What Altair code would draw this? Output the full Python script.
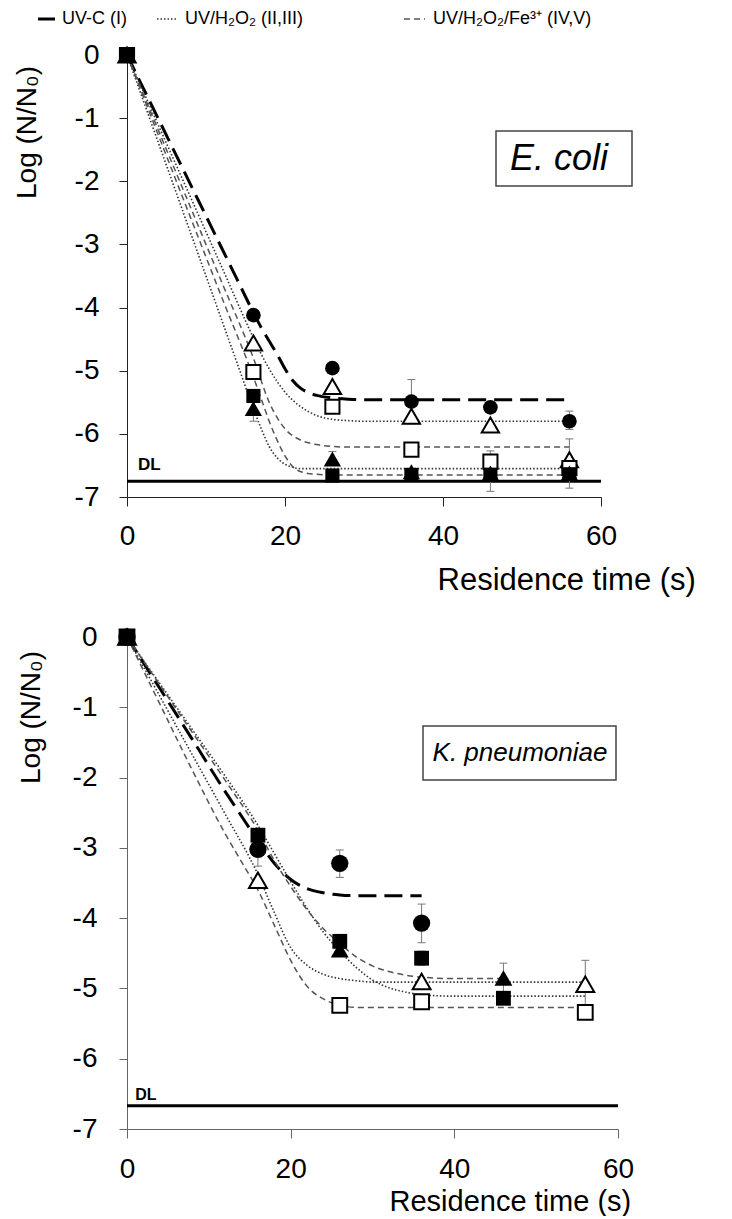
import altair as alt
import pandas as pd

FONT = "Liberation Sans, Arial, sans-serif"

# ---------------- E. coli (top panel) ----------------
EC_TIMES = [0, 16, 26, 36, 46, 56]
EC_CIRCLE_FILLED = [0, -4.12, -4.96, -5.49, -5.58, -5.80]      # UV-C (I)
EC_TRIANGLE_OPEN = [0, -4.56, -5.25, -5.72, -5.86, -6.41]      # UV/H2O2 (II)
EC_TRIANGLE_FILLED = [0, -5.60, -6.40, -6.60, -6.62, -6.62]    # UV/H2O2 (III)
EC_SQUARE_OPEN = [0, -5.02, -5.57, -6.25, -6.44, -6.54]        # UV/H2O2/Fe (IV)
EC_SQUARE_FILLED = [0, -5.40, -6.66, -6.65, -6.65, -6.64]      # UV/H2O2/Fe (V)

EC_I_T = [0, 4, 8, 12, 14, 16, 17, 18, 19, 20, 21, 22, 23, 24, 26, 28, 30, 56]
EC_I_Y = [0, -1.02, -2.04, -3.06, -3.57, -4.08, -4.32, -4.53, -4.74, -4.97, -5.16, -5.28, -5.35, -5.39, -5.43, -5.45, -5.46, -5.46]
EC_II_T = [0, 4, 8, 12, 16, 17, 18, 19, 20, 21, 22, 23, 24, 26, 28, 30, 56]
EC_II_Y = [0, -1.12, -2.24, -3.36, -4.48, -4.74, -4.97, -5.17, -5.34, -5.47, -5.57, -5.65, -5.71, -5.77, -5.79, -5.80, -5.80]
EC_III_T = [0, 4, 8, 12, 14, 16, 17, 18, 19, 20, 21, 22, 24, 56]
EC_III_Y = [0, -1.40, -2.80, -4.20, -4.90, -5.60, -5.92, -6.20, -6.38, -6.48, -6.53, -6.55, -6.55, -6.55]
EC_IV_T = [0, 4, 8, 12, 16, 18, 20, 22, 24, 26, 28, 56]
EC_IV_Y = [0, -1.20, -2.40, -3.60, -4.80, -5.50, -5.92, -6.10, -6.17, -6.20, -6.21, -6.21]
EC_V_T = [0, 4, 8, 12, 16, 17, 18, 19, 20, 21, 22, 24, 26, 56]
EC_V_Y = [0, -1.28, -2.56, -3.84, -5.10, -5.45, -5.80, -6.10, -6.35, -6.52, -6.60, -6.64, -6.65, -6.65]

EC_ERR_T = [16, 26, 36, 46, 46, 56, 56, 56]
EC_ERR_LO = [-5.80, -6.45, -5.84, -6.61, -6.91, -5.93, -6.74, -6.86]
EC_ERR_HI = [-5.38, -6.28, -5.14, -6.27, -6.39, -5.64, -6.08, -6.42]
EC_DL = -6.75

# ---------------- K. pneumoniae (bottom panel) ----------------
KP_CIRCLE_T = [0, 16, 26, 36]
KP_CIRCLE_Y = [0, -3.02, -3.22, -4.07]
KP_TRI_OPEN_T = [0, 16, 36, 56]
KP_TRI_OPEN_Y = [0, -3.46, -4.90, -4.94]
KP_TRI_FILLED_T = [0, 26, 46]
KP_TRI_FILLED_Y = [0, -4.45, -4.85]
KP_SQ_FILLED_T = [0, 16, 26, 36, 46]
KP_SQ_FILLED_Y = [0, -2.82, -4.33, -4.57, -5.14]
KP_SQ_OPEN_T = [0, 26, 36, 56]
KP_SQ_OPEN_Y = [0, -5.24, -5.19, -5.34]

KP_I_T = [0, 4, 8, 12, 14, 16, 18, 20, 22, 24, 26, 28, 36]
KP_I_Y = [0, -0.73, -1.46, -2.20, -2.55, -2.90, -3.22, -3.45, -3.58, -3.64, -3.67, -3.68, -3.68]
KP_II_T = [0, 4, 8, 12, 16, 18, 20, 22, 24, 26, 28, 30, 56]
KP_II_Y = [0, -0.84, -1.68, -2.52, -3.38, -3.92, -4.42, -4.67, -4.80, -4.86, -4.89, -4.91, -4.91]
KP_III_T = [0, 4, 8, 12, 16, 18, 20, 22, 24, 26, 28, 30, 32, 34, 36, 40, 56]
KP_III_Y = [0, -0.66, -1.32, -1.98, -2.68, -3.08, -3.48, -3.86, -4.20, -4.47, -4.70, -4.88, -4.99, -5.05, -5.09, -5.11, -5.11]
KP_IV_T = [0, 4, 8, 12, 16, 18, 20, 22, 24, 26, 28, 30, 32, 34, 36, 40, 46]
KP_IV_Y = [0, -0.68, -1.36, -2.04, -2.75, -3.18, -3.55, -3.88, -4.15, -4.36, -4.55, -4.68, -4.76, -4.81, -4.84, -4.86, -4.86]
KP_V_T = [0, 4, 8, 12, 14, 16, 18, 20, 22, 24, 26, 28, 56]
KP_V_Y = [0, -0.95, -1.90, -2.80, -3.20, -3.60, -4.10, -4.60, -4.97, -5.15, -5.24, -5.27, -5.27]

KP_ERR_T = [16, 26, 36, 36, 46, 46, 56]
KP_ERR_LO = [-3.26, -3.42, -4.35, -4.67, -5.06, -5.22, -5.25]
KP_ERR_HI = [-2.83, -3.03, -3.80, -4.47, -4.64, -5.06, -4.60]
KP_DL = -6.67

LEGEND_LABELS = ["UV-C (I)", "UV/H\u2082O\u2082 (II,III)", "UV/H\u2082O\u2082/Fe\u00b3\u207a (IV,V)"]
X_TITLE = "Residence time (s)"
Y_TITLE = "Log (N/N\u2080)"


def markers_frame(series):
    rows = []
    for shape, filled, ts, ys in series:
        for t, y in zip(ts, ys):
            rows.append({"t": t, "y": y, "shape": shape, "filled": filled})
    return pd.DataFrame(rows)


def curves_frame(curves):
    rows = []
    for name, style, ts, ys in curves:
        for t, y in zip(ts, ys):
            rows.append({"curve": name, "style": style, "t": t, "y": y})
    return pd.DataFrame(rows)


def err_frame(ts, lo, hi):
    return pd.DataFrame({"t": ts, "lo": lo, "hi": hi})


def panel(curves, markers, errs, dl, width, height, axis_color, y_title_x, y_title_y,
          x_title_x, x_title_y, x_title_size, y_label_pad, x_label_pad, sizes, box, box_text,
          box_font, dl_font, dl_dy, dl_x, extra=None):
    xs = alt.Scale(domain=[0, 60], nice=False, zero=False)
    ys = alt.Scale(domain=[-7, 0], nice=False, zero=False)
    xax = alt.Axis(values=[0, 20, 40, 60], title=X_TITLE, grid=False, domainColor=axis_color,
                   tickColor=axis_color, tickSize=9, labelFontSize=28, labelPadding=x_label_pad,
                   titleFontSize=x_title_size, titleFontWeight="normal", titleX=x_title_x,
                   titleY=x_title_y, titleAlign="left", titleBaseline="middle",
                   labelColor="black", titleColor="black", labelFlush=False)
    yax = alt.Axis(values=[-7, -6, -5, -4, -3, -2, -1, 0], title=Y_TITLE, grid=False,
                   domainColor=axis_color, tickColor=axis_color, tickSize=8, labelFontSize=28,
                   labelPadding=y_label_pad, titleFontSize=28, titleFontWeight="normal",
                   titleX=y_title_x, titleY=y_title_y, titleAlign="center", titleBaseline="top",
                   labelExpr="'' + datum.value", labelColor="black", titleColor="black",
                   labelFlush=False)
    X = alt.X("t:Q", scale=xs, axis=xax)
    Y = alt.Y("y:Q", scale=ys, axis=yax)

    cdf = curves_frame(curves)
    base_c = alt.Chart(cdf)
    long_l = base_c.transform_filter("datum.style == 'long'").mark_line(
        strokeDash=[18, 8], strokeWidth=3, color="black", interpolate="monotone"
    ).encode(x=X, y=Y, detail="curve:N")
    dot_l = base_c.transform_filter("datum.style == 'dot'").mark_line(
        strokeDash=[1.5, 2], strokeWidth=1.6, color="#333333", interpolate="monotone"
    ).encode(x=X, y=Y, detail="curve:N")
    dash_l = base_c.transform_filter("datum.style == 'dash'").mark_line(
        strokeDash=[6, 4], strokeWidth=1.5, color="#555555", interpolate="monotone"
    ).encode(x=X, y=Y, detail="curve:N")

    dldf = pd.DataFrame({"t": [0], "t2": [60], "y": [dl], "tx": [dl_x]})
    dl_rule = alt.Chart(dldf).mark_rule(strokeWidth=3, color="black").encode(
        x=X, x2="t2:Q", y=Y)
    dl_text = alt.Chart(dldf).mark_text(text="DL", fontSize=dl_font, fontWeight="bold",
                                        align="left", baseline="bottom", dy=dl_dy,
                                        color="black").encode(
        x=alt.X("tx:Q", scale=xs, axis=xax), y=Y)

    edf = err_frame(*errs)
    e_rule = alt.Chart(edf).mark_rule(color="#777777", strokeWidth=1).encode(
        x=X, y=alt.Y("lo:Q", scale=ys, axis=yax), y2="hi:Q")
    e_cap_lo = alt.Chart(edf).mark_rule(color="#777777", strokeWidth=1, xOffset=-4, x2Offset=4).encode(
        x=X, x2="t:Q", y=alt.Y("lo:Q", scale=ys, axis=yax))
    e_cap_hi = alt.Chart(edf).mark_rule(color="#777777", strokeWidth=1, xOffset=-4, x2Offset=4).encode(
        x=X, x2="t:Q", y=alt.Y("hi:Q", scale=ys, axis=yax))

    mdf = markers_frame(markers)
    mk = alt.Chart(mdf)
    marker_layers = []
    for filled in (False, True):
        for shape in ("circle", "triangle-up", "square"):
            cond = ("datum.filled" if filled else "!datum.filled") + " && datum.shape == '%s'" % shape
            if filled:
                m = mk.transform_filter(cond).mark_point(
                    shape=shape, size=sizes[shape], filled=True, color="black", opacity=1)
            else:
                m = mk.transform_filter(cond).mark_point(
                    shape=shape, size=sizes[shape], filled=True, fill="white", stroke="black",
                    strokeWidth=2, opacity=1)
            marker_layers.append(m.encode(x=X, y=Y))

    bx0, bx1, by0, by1, tx, ty = box
    box_rect = alt.Chart(dldf).mark_rect(fill="white", stroke="#444444", strokeWidth=1.5).encode(
        x=alt.value(bx0), x2=alt.value(bx1), y=alt.value(by0), y2=alt.value(by1))
    box_txt = alt.Chart(dldf).mark_text(text=box_text, fontSize=box_font, fontStyle="italic",
                                        align="center", baseline="middle", color="black").encode(
        x=alt.value(tx), y=alt.value(ty))

    layers = [long_l, dot_l, dash_l, dl_rule, dl_text, e_rule, e_cap_lo, e_cap_hi] + \
        marker_layers + [box_rect, box_txt]
    if extra:
        layers += extra
    return alt.layer(*layers).properties(width=width, height=height)


# legend drawn above the top panel
leg_df = pd.DataFrame({"k": [0]})
LY = -36
legend_layers = [
    alt.Chart(leg_df).mark_rule(strokeWidth=3, color="black").encode(
        x=alt.value(-89), x2=alt.value(-72), y=alt.value(LY)),
    alt.Chart(leg_df).mark_rule(strokeWidth=1.6, color="#333333", strokeDash=[1.5, 2]).encode(
        x=alt.value(30), x2=alt.value(51), y=alt.value(LY)),
    alt.Chart(leg_df).mark_rule(strokeWidth=1.5, color="#555555", strokeDash=[6, 4]).encode(
        x=alt.value(277), x2=alt.value(298), y=alt.value(LY)),
]
for lx, lab in zip([-65, 58, 306], LEGEND_LABELS):
    legend_layers.append(
        alt.Chart(leg_df).mark_text(text=lab, fontSize=18, align="left", baseline="middle",
                                    color="black").encode(x=alt.value(lx), y=alt.value(LY)))

top = panel(
    curves=[("I", "long", EC_I_T, EC_I_Y), ("II", "dot", EC_II_T, EC_II_Y),
            ("III", "dot", EC_III_T, EC_III_Y), ("IV", "dash", EC_IV_T, EC_IV_Y),
            ("V", "dash", EC_V_T, EC_V_Y)],
    markers=[("circle", True, EC_TIMES, EC_CIRCLE_FILLED),
             ("triangle-up", False, EC_TIMES, EC_TRIANGLE_OPEN),
             ("square", False, EC_TIMES, EC_SQUARE_OPEN),
             ("triangle-up", True, EC_TIMES, EC_TRIANGLE_FILLED),
             ("square", True, EC_TIMES, EC_SQUARE_FILLED)],
    errs=(EC_ERR_T, EC_ERR_LO, EC_ERR_HI), dl=EC_DL,
    width=474, height=442, axis_color="#222222",
    y_title_x=-113.7, y_title_y=77, x_title_x=310, x_title_y=83, x_title_size=31,
    y_label_pad=20, x_label_pad=16,
    sizes={"circle": 215, "triangle-up": 300, "square": 200},
    box=(369, 505, 76, 131, 432, 104), box_text="E. coli", box_font=36,
    dl_font=17, dl_dy=-7, dl_x=1.4, extra=legend_layers)

bottom = panel(
    curves=[("I", "long", KP_I_T, KP_I_Y), ("II", "dot", KP_II_T, KP_II_Y),
            ("III", "dot", KP_III_T, KP_III_Y), ("IV", "dash", KP_IV_T, KP_IV_Y),
            ("V", "dash", KP_V_T, KP_V_Y)],
    markers=[("circle", True, KP_CIRCLE_T, KP_CIRCLE_Y),
             ("triangle-up", False, KP_TRI_OPEN_T, KP_TRI_OPEN_Y),
             ("square", False, KP_SQ_OPEN_T, KP_SQ_OPEN_Y),
             ("triangle-up", True, KP_TRI_FILLED_T, KP_TRI_FILLED_Y),
             ("square", True, KP_SQ_FILLED_T, KP_SQ_FILLED_Y)],
    errs=(KP_ERR_T, KP_ERR_LO, KP_ERR_HI), dl=KP_DL,
    width=491, height=492, axis_color="#666666",
    y_title_x=-109.3, y_title_y=80, x_title_x=262, x_title_y=72, x_title_size=29,
    y_label_pad=22, x_label_pad=17,
    sizes={"circle": 300, "triangle-up": 320, "square": 220},
    box=(296, 489, 89, 143, 393, 116), box_text="K. pneumoniae", box_font=26,
    dl_font=16, dl_dy=-3, dl_x=1.0)

chart = alt.vconcat(top, bottom, spacing=28).properties(
    padding={"left": 5, "top": 2, "right": 0, "bottom": 0}
).configure(font=FONT).configure_view(stroke=None)

chart.save("out.html", embed_options={"renderer": "svg", "actions": False})
